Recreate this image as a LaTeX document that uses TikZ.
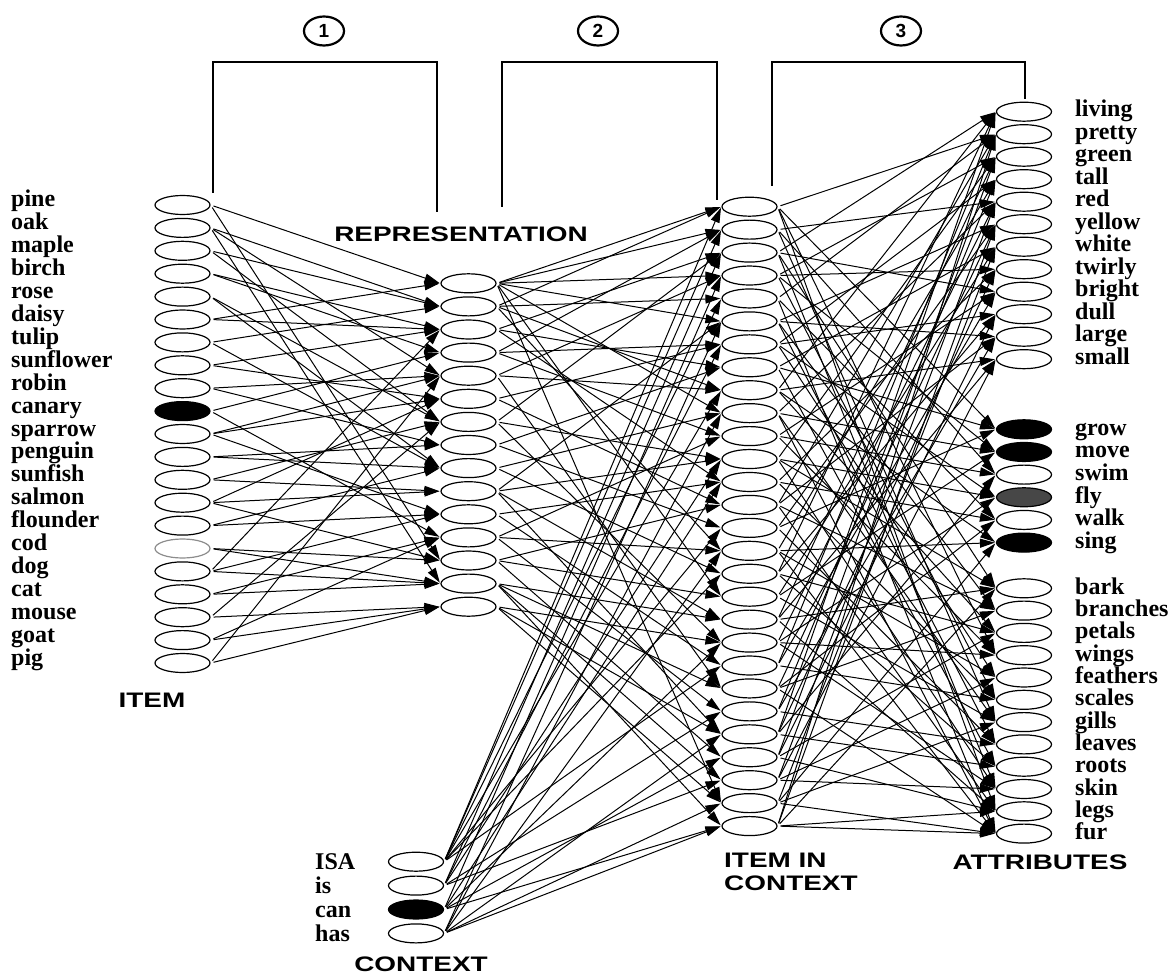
\documentclass[tikz,border=0pt]{standalone}
\usepackage{fontspec}
\usepackage{graphicx}
\setmainfont{Liberation Serif}
\newfontfamily\headfont{Liberation Sans}
\usetikzlibrary{shapes.geometric,arrows.meta}
\newcommand{\wide}[1]{\scalebox{1.33}[1]{#1}}
\begin{document}
\begin{tikzpicture}[x=1pt,y=-1pt,
  unit/.style={ellipse,draw,line width=1.2pt,minimum width=55pt,minimum height=19pt,inner sep=0pt},
  on/.style={fill=black},
  half/.style={fill=black!72},
  faint/.style={draw=black!45},
  wlabel/.style={anchor=base west,font=\fontsize{24}{24}\selectfont\bfseries,inner sep=0pt},
  head/.style={font=\fontsize{21}{23}\selectfont\headfont\bfseries,inner sep=0pt},
  link/.style={line width=1pt,-{Triangle[length=15pt,width=9pt]},shorten <=3pt,shorten >=1pt},
  bracket/.style={line width=2.6pt},
  stage/.style={ellipse,draw,line width=2.2pt,minimum width=40pt,minimum height=29pt,inner sep=0pt,font=\fontsize{19}{19}\selectfont\headfont\bfseries}]
\useasboundingbox (0,0) rectangle (1172,976);

% ---------- item layer ----------
\foreach \name/\st [count=\i] in {pine/,oak/,maple/,birch/,rose/,daisy/,tulip/,sunflower/,robin/,canary/on,sparrow/,penguin/,sunfish/,salmon/,flounder/,cod/faint,dog/,cat/,mouse/,goat/,pig/} {
  \pgfmathsetmacro\yy{205+22.9*(\i-1)}
  \node[unit,\st] (I\i) at (182.5,\yy) {};
  \node[wlabel] (IL\i) at (11,\yy+2) {\name};
}
\node[head] (itemT) at (152,700) {\wide{ITEM}};

% ---------- representation layer ----------
\foreach \i in {1,...,15} {
  \pgfmathsetmacro\yy{283.3+23.1*(\i-1)}
  \node[unit] (R\i) at (468.5,\yy) {};
}
\node[head] (repT) at (461,234) {\wide{REPRESENTATION}};

% ---------- context layer ----------
\foreach \name/\st [count=\i] in {ISA/,is/,can/on,has/} {
  \pgfmathsetmacro\yy{861.7+23.9*(\i-1)}
  \node[unit,\st] (C\i) at (416,\yy) {};
  \node[wlabel] (CL\i) at (315,\yy+8) {\name};
}
\node[head] (ctxT) at (421,964) {\wide{CONTEXT}};

% ---------- item-in-context layer ----------
\foreach \i in {1,...,28} {
  \pgfmathsetmacro\yy{206.7+22.94*(\i-1)}
  \node[unit] (H\i) at (749.5,\yy) {};
}
\node[head,align=left,anchor=north west] (hidT) at (724,853) {\wide{ITEM IN}\\\wide{CONTEXT}};

% ---------- attribute layer ----------
\foreach \name [count=\i] in {living,pretty,green,tall,red,yellow,white,twirly,bright,dull,large,small} {
  \pgfmathsetmacro\yy{111.7+22.5*(\i-1)}
  \node[unit] (A\i) at (1024,\yy) {};
  \node[wlabel] (AL\i) at (1075,\yy+5) {\name};
}
\foreach \name/\st [count=\i] in {grow/on,move/on,swim/,fly/half,walk/,sing/on} {
  \pgfmathsetmacro\yy{429.3+22.66*(\i-1)}
  \pgfmathtruncatemacro\k{\i+12}
  \node[unit,\st] (A\k) at (1024,\yy) {};
  \node[wlabel] (AL\k) at (1075,\yy+6) {\name};
}
\foreach \name [count=\i] in {bark,branches,petals,wings,feathers,scales,gills,leaves,roots,skin,legs,fur} {
  \pgfmathsetmacro\yy{588.3+22.3*(\i-1)}
  \pgfmathtruncatemacro\k{\i+18}
  \node[unit] (A\k) at (1024,\yy) {};
  \node[wlabel] (AL\k) at (1075,\yy+6) {\name};
}
\node[head] (attT) at (1040,862) {\wide{ATTRIBUTES}};

% ---------- stage brackets ----------
\coordinate (b1a) at (213,193); \coordinate (b1b) at (213,62);
\coordinate (b1c) at (437,62);  \coordinate (b1d) at (437,212);
\coordinate (b2a) at (502,207); \coordinate (b2b) at (502,62);
\coordinate (b2c) at (717,62);  \coordinate (b2d) at (717,200);
\coordinate (b3a) at (772,186); \coordinate (b3b) at (772,62);
\coordinate (b3c) at (1025,62); \coordinate (b3d) at (1025,99);
\draw[bracket] (b1a) -- (b1b) -- (b1c) -- (b1d);
\draw[bracket] (b2a) -- (b2b) -- (b2c) -- (b2d);
\draw[bracket] (b3a) -- (b3b) -- (b3c) -- (b3d);
\node[stage] (s1) at (324,31) {1};
\node[stage] (s2) at (598,31) {2};
\node[stage] (s3) at (901,31) {3};

% ---------- item -> representation ----------
\foreach \a/\b in {1/1,1/13,2/2,2/5,2/14,3/2,3/7,4/3,4/4,5/7,5/9,6/1,6/3,7/2,7/9,8/3,8/6,9/5,9/8,10/4,10/12,11/6,11/5,11/11,12/8,12/9,13/7,13/10,14/6,14/10,14/13,15/9,15/11,16/13,16/14,17/3,17/11,17/14,18/12,18/14,19/7,19/15,20/12,20/15,21/5,21/15}
  \draw[link] (I\a.east) -- (R\b.west);

% ---------- representation -> item in context ----------
\foreach \a/\b in {1/1,1/2,1/4,1/6,1/10,1/18,1/27,2/1,2/5,2/9,2/16,3/3,3/8,3/13,4/2,4/7,4/11,5/4,5/9,5/22,6/7,6/14,7/3,7/12,7/20,8/8,8/15,9/10,9/17,10/6,10/12,10/19,10/24,11/13,11/21,12/11,12/16,12/23,13/14,13/18,13/25,14/19,14/22,14/26,14/28,15/20,15/24,15/27}
  \draw[link] (R\a.east) -- (H\b.west);

% ---------- context -> item in context ----------
\foreach \a/\b in {1/1,1/2,1/5,1/9,1/15,1/17,1/21,2/3,2/7,2/12,2/23,2/26,3/4,3/13,3/20,3/25,3/28,4/6,4/10,4/16,4/24,4/27,4/28}
  \draw[link] (C\a.east) -- (H\b.west);

% ---------- item in context -> attributes ----------
\foreach \a/\b in {1/2,1/13,1/29,1/22,2/5,2/15,2/25,3/1,3/9,3/19,3/28,4/3,4/8,4/14,4/24,5/2,5/17,5/30,6/6,6/11,6/20,6/26,7/4,7/10,7/16,7/23,8/7,8/13,8/27,9/1,9/12,9/18,9/21,10/5,10/14,10/25,10/30,11/9,11/15,11/22,12/3,12/16,12/19,12/28,13/8,13/17,13/24,14/2,14/11,14/20,14/29,15/6,15/13,15/26,16/4,16/18,16/23,16/30,17/1,17/10,17/21,17/27,18/7,18/14,18/25,19/3,19/12,19/19,19/29,20/5,20/16,20/22,20/28,21/2,21/9,21/24,22/6,22/17,22/20,22/30,23/4,23/11,23/26,24/1,24/8,24/15,24/27,25/3,25/10,25/21,25/29,26/5,26/12,26/23,26/28,27/7,27/18,27/25,27/30,28/2,28/6,28/19,28/29,28/30}
  \draw[link] (H\a.east) -- (A\b.west);
\end{tikzpicture}
\end{document}
